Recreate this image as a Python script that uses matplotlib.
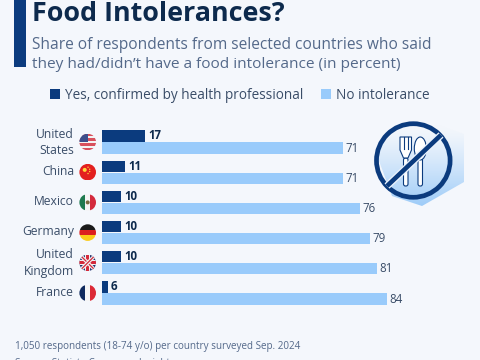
import matplotlib
matplotlib.use("Agg")
import matplotlib.pyplot as plt
import numpy as np
from matplotlib.patches import Circle, Rectangle, Polygon, Ellipse, FancyBboxPatch

countries = ["United\nStates", "China", "Mexico", "Germany", "United\nKingdom", "France"]
yes_values = [17, 11, 10, 10, 10, 6]
no_values = [71, 71, 76, 79, 81, 84]
legend_labels = ["Yes, confirmed by health professional", "No intolerance"]
title = "Food Intolerances?"
subtitle = ["Share of respondents from selected countries who said",
            "they had/didn\u2019t have a food intolerance (in percent)"]
notes = ["1,050 respondents (18-74 y/o) per country surveyed Sep. 2024",
         "Source: Statista Consumer Insights"]

BG = "#f4f7fc"; DARK = "#0b3b7e"; LIGHT = "#99cbfb"; TITLE = "#0d2a4d"; SUB = "#54698a"; TXT = "#3a4d68"
plt.rcParams["font.family"] = ["Open Sans", "DejaVu Sans"]

fig = plt.figure(figsize=(4.8, 3.6), dpi=100, facecolor=BG)
W, H = 480, 360
bg = fig.add_axes([0, 0, 1, 1]); bg.set_xlim(0, W); bg.set_ylim(H, 0); bg.axis("off")

# header
bg.add_patch(Rectangle((14, 0), 11.5, 67, color=DARK, lw=0))
bg.text(32.5, 21, title, fontsize=19.4, fontweight="bold", color=TITLE, va="baseline")
bg.text(32, 49, subtitle[0], fontsize=11.2, color=SUB, va="baseline")
bg.text(32, 67.5, subtitle[1], fontsize=11.1, color=SUB, va="baseline")

# legend
bg.add_patch(Rectangle((50, 88.5), 10, 10, color=DARK, lw=0))
bg.text(65, 99, legend_labels[0], fontsize=9.85, color=TXT, va="baseline")
bg.add_patch(Rectangle((320.5, 88.5), 10, 10, color=LIGHT, lw=0))
bg.text(336, 99, legend_labels[1], fontsize=9.85, color=TXT, va="baseline")

# bars: shared scale, px per percentage point
X0 = 102; SCALE = 3.39; STEP = 30.2; TOP = 142 - STEP / 2; BOT = TOP + 6 * STEP; DX = 14.5
n = len(countries)
def make_ax(xmin):
    x1 = 470
    ax = fig.add_axes([X0 / W, 1 - BOT / H, (x1 - X0) / W, (BOT - TOP) / H])
    ax.set_xlim(xmin, xmin + (x1 - X0) / SCALE)
    ax.set_ylim(n - 0.5, -0.5)
    ax.axis("off"); ax.patch.set_alpha(0)
    return ax
ax = make_ax(0)
ypos = np.arange(n)
ax.barh(ypos + 0.2, no_values, height=0.37, color=LIGHT, lw=0)
ax2 = make_ax(DX / SCALE)
ax2.barh(ypos - 0.2, yes_values, height=0.37, color=DARK, lw=0)
for y, a, b in zip(ypos, yes_values, no_values):
    ax2.annotate(str(a), (a, y - 0.2), xytext=(2.3, 0), textcoords="offset points", va="center",
                 fontsize=8.3, fontweight="bold", color=TITLE)
    ax.annotate(str(b), (b, y + 0.2), xytext=(2, 0), textcoords="offset points", va="center",
                fontsize=8.3, color=TXT)

# country labels & flags
centres = [142 + STEP * i for i in range(n)]
label_y = [142.5, 171.7, 201.7, 232, 263, 292.3]
for name, ly in zip(countries, label_y):
    bg.text(74, ly, name, ha="right", va="center", fontsize=8.7, color=TXT, linespacing=1.3,
            multialignment="right")

R = 8.3
def us(x, y, s):
    out = [Rectangle((x, y), s, s, color="#f3f3f3", lw=0)]
    for i in range(0, 7, 2):
        out.append(Rectangle((x, y + i * s / 7), s, s / 7, color="#d8505c", lw=0))
    out.append(Rectangle((x, y), s * .5, s * .5, color="#3d4f8c", lw=0))
    return out
def china(x, y, s):
    out = [Rectangle((x, y), s, s, color="#e3201f", lw=0)]
    for dx, dy, r in [(.32, .36, 2), (.52, .2, .7), (.62, .32, .7), (.62, .46, .7), (.52, .58, .7)]:
        out.append(Circle((x + dx * s, y + dy * s), r, color="#ffd83a", lw=0))
    return out
def mexico(x, y, s):
    return [Rectangle((x, y), s / 3, s, color="#1f7a50", lw=0),
            Rectangle((x + s / 3, y), s / 3, s, color="#f5f5f5", lw=0),
            Rectangle((x + 2 * s / 3, y), s / 3, s, color="#d42a3c", lw=0),
            Circle((x + s / 2, y + s / 2), 2, color="#7a6a40", lw=0)]
def germany(x, y, s):
    return [Rectangle((x, y), s, s / 3, color="#1a1a1a", lw=0),
            Rectangle((x, y + s / 3), s, s / 3, color="#dc1f1f", lw=0),
            Rectangle((x, y + 2 * s / 3), s, s / 3, color="#fbcb1a", lw=0)]
def uk(x, y, s):
    cx, cy = x + s / 2, y + s / 2
    out = [Rectangle((x, y), s, s, color="#27346f", lw=0)]
    for a, b in [((x, y), (x + s, y + s)), ((x + s, y), (x, y + s))]:
        out.append(plt.Line2D([a[0], b[0]], [a[1], b[1]], color="#f2f2f2", lw=2.6))
        out.append(plt.Line2D([a[0], b[0]], [a[1], b[1]], color="#d42a3c", lw=0.9))
    out += [Rectangle((cx - 2.6, y), 5.2, s, color="#f2f2f2", lw=0), Rectangle((x, cy - 2.6), s, 5.2, color="#f2f2f2", lw=0),
            Rectangle((cx - 1.4, y), 2.8, s, color="#d42a3c", lw=0), Rectangle((x, cy - 1.4), s, 2.8, color="#d42a3c", lw=0)]
    return out
def france(x, y, s):
    return [Rectangle((x, y), s / 3, s, color="#0f2a5e", lw=0),
            Rectangle((x + s / 3, y), s / 3, s, color="#f5f5f5", lw=0),
            Rectangle((x + 2 * s / 3, y), s / 3, s, color="#dc2a36", lw=0)]
def add_flag(yc, fn):
    clip = Circle((87.7, yc), R, transform=bg.transData, lw=0, fc="none")
    bg.add_patch(clip)
    for p in fn(87.7 - R, yc - R, 2 * R):
        if isinstance(p, plt.Line2D):
            bg.add_line(p)
        else:
            bg.add_patch(p)
        p.set_clip_path(clip)
for yc, fn in zip(centres, [us, china, mexico, germany, uk, france]):
    add_flag(yc, fn)

# icon
hexa = Polygon([(413, 116), (464, 134), (464, 182), (422, 206), (392, 196), (375, 150)], closed=True, lw=0, fc="none")
bg.add_patch(hexa)
grad = np.linspace(0, 1, 100)[:, None]
c0 = np.array([0xf4, 0xf7, 0xfc]) / 255; c1 = np.array([0x9c, 0xcb, 0xf8]) / 255
img = c0[None, None, :] * (1 - grad[..., None] ** 1.3) + c1[None, None, :] * grad[..., None] ** 1.3
im = bg.imshow(img, extent=(375, 470, 207, 125), aspect="auto", zorder=1)
im.set_clip_path(hexa)
bg.set_xlim(0, W); bg.set_ylim(H, 0)
cx, cy = 413.3, 160.5
bg.add_patch(Circle((cx, cy), 36.8, fc="none", ec=DARK, lw=3.4, zorder=3))
# fork
wh = dict(fc="white", ec=DARK, lw=0.8, zorder=3)
bg.add_patch(FancyBboxPatch((403.5, 158), 4.5, 28, boxstyle="round,pad=0,rounding_size=2", **wh))
bg.add_patch(Polygon([(400, 137), (400, 150), (403.5, 158), (408, 158), (411.5, 150), (411.5, 137)], closed=True, **wh))
for xx in [403.8, 407.6]:
    bg.plot([xx, xx], [137, 149], color=DARK, lw=0.8, zorder=3)
# spoon
bg.add_patch(FancyBboxPatch((418, 158), 4.5, 28, boxstyle="round,pad=0,rounding_size=2", **wh))
bg.add_patch(Ellipse((420.3, 148.5), 12, 23, **wh))
# slash
bg.plot([387, 441], [186, 135], color="#eaf2fc", lw=5.2, solid_capstyle="butt", zorder=4)
bg.plot([387, 441], [186, 135], color=DARK, lw=3.3, solid_capstyle="butt", zorder=5)

# footer
bg.text(15, 349, notes[0], fontsize=7.1, color=SUB, va="baseline")
bg.text(15, 366, notes[1], fontsize=7.1, color=SUB, va="baseline")

fig.savefig("out.png", dpi=100, facecolor=BG)
